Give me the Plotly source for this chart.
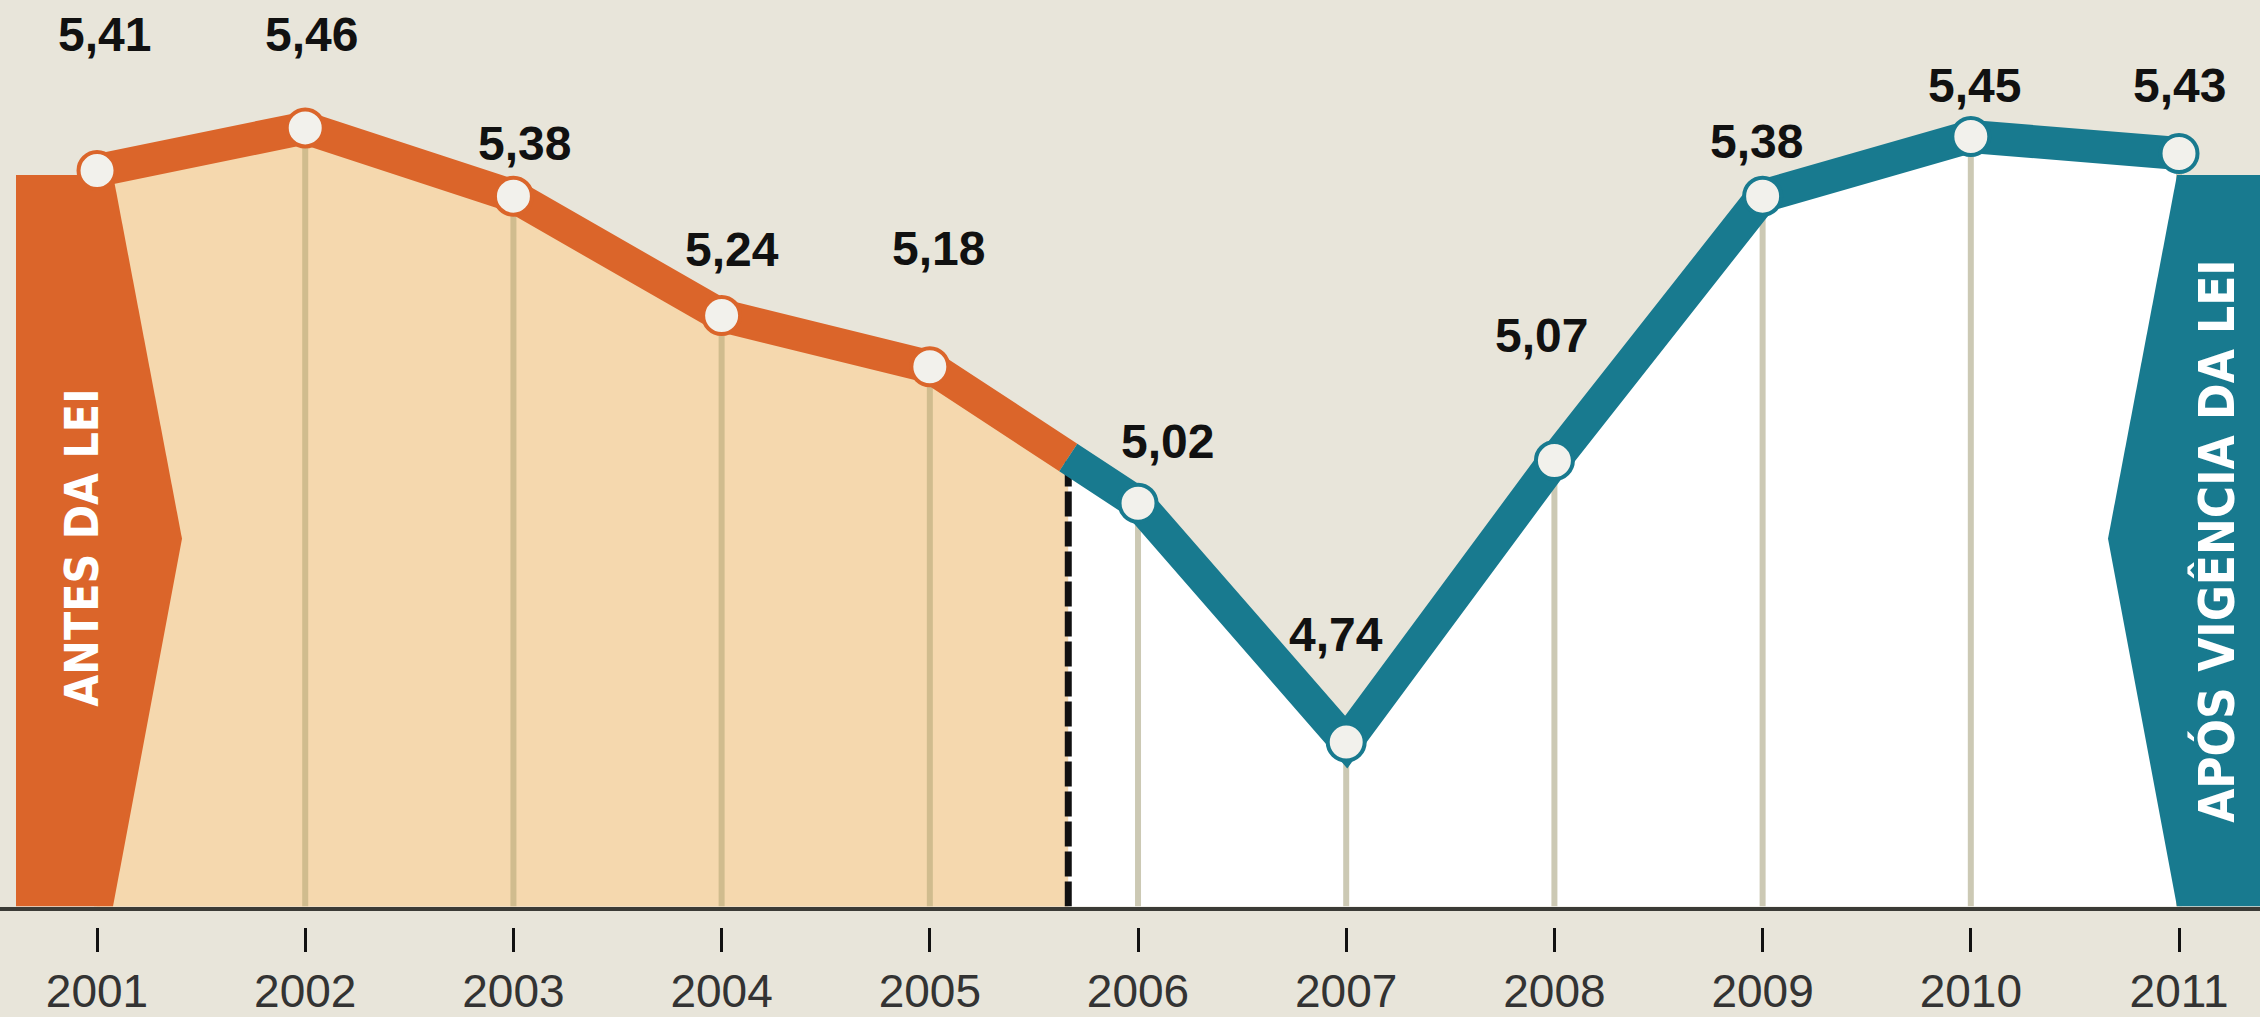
import numpy as np
import plotly.graph_objects as go

# ---------------- data ----------------
YEARS = [2001, 2002, 2003, 2004, 2005, 2006, 2007, 2008, 2009, 2010, 2011]
VALUES = [5.41, 5.46, 5.38, 5.24, 5.18, 5.02, 4.74, 5.07, 5.38, 5.45, 5.43]
YEAR_LABELS = ["2001", "2002", "2003", "2004", "2005", "2006", "2007", "2008", "2009", "2010", "2011"]
LAW_YEAR = 2005.665          # boundary between the two periods (dashed line)
BEFORE_TEXT = "ANTES DA LEI"
AFTER_TEXT = "APÓS VIGÊNCIA DA LEI"

# ---------------- layout / style ----------------
W, H = 2260, 1017
PLOT_BOTTOM_PX = 922
XMIN, XMAX = 2000.534, 2011.389
YMIN, YMAX = 4.5471, 5.6100

BG = "#E8E5DA"
ORANGE = "#DB652A"
BLUE = "#187A8F"
LIGHT_ORANGE = "#F5D8AE"
WHITE = "#FFFFFF"
DOT = "#F2F1EC"
GRID_BEFORE = "#D0BC8E"
GRID_AFTER = "#CCC9B4"

# label offsets (pixels): horizontal shift, vertical lift above the point
LABEL_DX = [7, 6, 11, 10, 9, 29, -10, -13, -6, 4, 0]
LABEL_DY = [136, 93, 53, 66, 118, 62, 108, 125, 55, 51, 68]

LABEL_FONT = "Liberation Sans, Arial, sans-serif"
NARROW_FONT = "Liberation Sans Narrow, Arial Narrow, DejaVu Sans Condensed, sans-serif"


def px2x(px):
    return XMIN + px / W * (XMAX - XMIN)


def py2y(py):
    return YMIN + (PLOT_BOTTOM_PX - py) / PLOT_BOTTOM_PX * (YMAX - YMIN)


years = np.array(YEARS, dtype=float)
vals = np.array(VALUES, dtype=float)
y_law = float(np.interp(LAW_YEAR, years, vals))
before = years < LAW_YEAR
after = ~before

xb = list(years[before]) + [LAW_YEAR]
yb = list(vals[before]) + [y_law]
xa = [LAW_YEAR] + list(years[after])
ya = [y_law] + list(vals[after])

fig = go.Figure()

# area fills
fig.add_trace(go.Scatter(x=xb, y=yb, mode="lines", fill="tozeroy", fillcolor=LIGHT_ORANGE,
                         line=dict(width=0), hoverinfo="skip", showlegend=False))
fig.add_trace(go.Scatter(x=xa, y=ya, mode="lines", fill="tozeroy", fillcolor=WHITE,
                         line=dict(width=0), hoverinfo="skip", showlegend=False))

# vertical guides from axis to points
def guide_xy(mask):
    gx, gy = [], []
    for x, v in zip(years[mask], vals[mask]):
        gx += [x, x, None]
        gy += [YMIN, v, None]
    return gx, gy

for mask, col in ((before, GRID_BEFORE), (after, GRID_AFTER)):
    gx, gy = guide_xy(mask)
    fig.add_trace(go.Scatter(x=gx, y=gy, mode="lines", line=dict(color=col, width=6),
                             hoverinfo="skip", showlegend=False))

# dashed boundary
fig.add_trace(go.Scatter(x=[LAW_YEAR, LAW_YEAR], y=[YMIN, y_law], mode="lines",
                         line=dict(color="#111111", width=7, dash="25px,5px"),
                         hoverinfo="skip", showlegend=False))

# side bands (decorative arrows)
left_px = [(16, 178), (113, 178), (182, 548), (113, 922), (16, 922), (16, 178)]
right_px = [(2177, 178), (2260, 178), (2260, 922), (2177, 922), (2108, 548), (2177, 178)]
for pts, col in ((left_px, ORANGE), (right_px, BLUE)):
    fig.add_trace(go.Scatter(x=[px2x(p[0]) for p in pts], y=[py2y(p[1]) for p in pts],
                             mode="lines", fill="toself", fillcolor=col, line=dict(width=0, color=col),
                             hoverinfo="skip", showlegend=False))

# main lines
fig.add_trace(go.Scatter(x=xb, y=yb, mode="lines", line=dict(color=ORANGE, width=33),
                         hoverinfo="skip", showlegend=False))
fig.add_trace(go.Scatter(x=xa, y=ya, mode="lines", line=dict(color=BLUE, width=33),
                         hoverinfo="skip", showlegend=False))

# markers
for mask, col in ((before, ORANGE), (after, BLUE)):
    fig.add_trace(go.Scatter(x=years[mask], y=vals[mask], mode="markers",
                             marker=dict(size=37, color=DOT, line=dict(color=col, width=4)),
                             hoverinfo="skip", showlegend=False))

# dummy trace for the tick axis
fig.add_trace(go.Scatter(x=YEARS, y=VALUES, xaxis="x2", yaxis="y", mode="markers",
                         marker=dict(opacity=0), hoverinfo="skip", showlegend=False))

annotations = []
for x, v, dx, dy in zip(YEARS, VALUES, LABEL_DX, LABEL_DY):
    annotations.append(dict(x=x, y=v, xref="x", yref="y", text=f"{v:.2f}".replace(".", ","),
                            showarrow=False, xanchor="center", yanchor="middle",
                            xshift=dx, yshift=dy,
                            font=dict(family=LABEL_FONT, size=48, color="#111111", weight="bold")))

annotations.append(dict(x=82 / W, y=(H - 557) / H, xref="paper", yref="paper", text=BEFORE_TEXT,
                        showarrow=False, textangle=-90, xanchor="center", yanchor="middle",
                        font=dict(family=NARROW_FONT, size=46, color="#FFFFFF", weight="bold")))
annotations.append(dict(x=2217 / W, y=(H - 550) / H, xref="paper", yref="paper", text=AFTER_TEXT,
                        showarrow=False, textangle=-90, xanchor="center", yanchor="middle",
                        font=dict(family=NARROW_FONT, size=49, color="#FFFFFF", weight="bold")))

dom0 = (H - PLOT_BOTTOM_PX) / H
fig.update_layout(
    width=W, height=H,
    margin=dict(l=0, r=0, t=0, b=0, pad=0),
    paper_bgcolor=BG, plot_bgcolor=BG,
    showlegend=False,
    xaxis=dict(range=[XMIN, XMAX], showgrid=False, zeroline=False, showticklabels=False,
               ticks="", showline=True, linecolor="#3B3B36", linewidth=4, fixedrange=True),
    xaxis2=dict(range=[XMIN, XMAX], overlaying="x", anchor="free", position=(H - 943) / H,
                side="bottom", showgrid=False, zeroline=False, showline=False,
                tickmode="array", tickvals=YEARS, ticktext=YEAR_LABELS,
                ticks="outside", ticklen=24, tickwidth=3, tickcolor="#111111",
                tickfont=dict(family=LABEL_FONT, size=46, color="#333333"), fixedrange=True),
    yaxis=dict(range=[YMIN, YMAX], domain=[dom0, 1], visible=False, fixedrange=True),
    annotations=annotations,
)

fig.write_html("out.html", config={"displayModeBar": False},
               post_script="document.body.style.margin='0';document.body.style.overflow='hidden';")
